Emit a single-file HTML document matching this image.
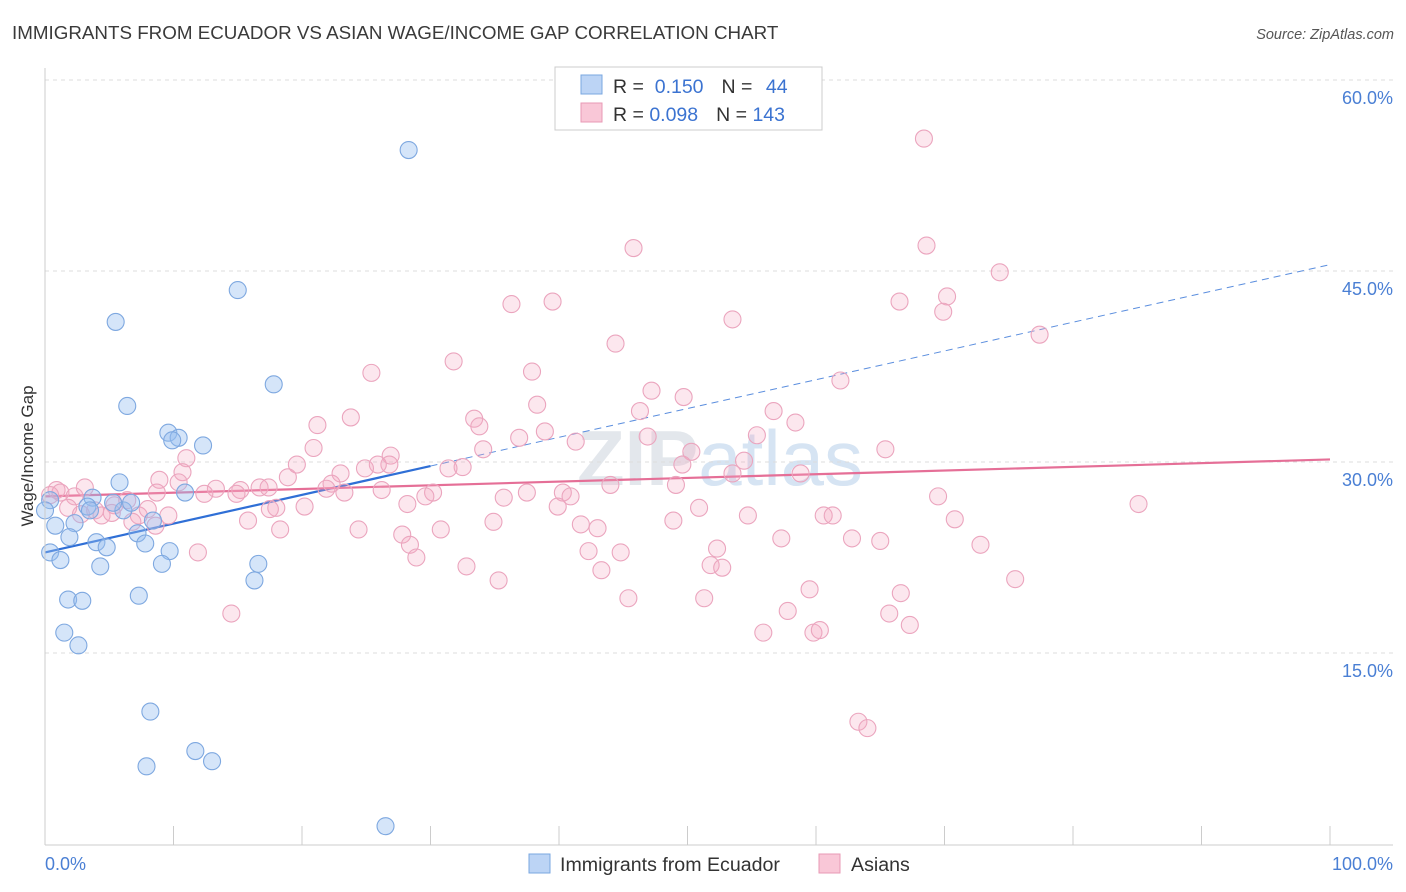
<!DOCTYPE html>
<html><head><meta charset="utf-8"><style>
body{margin:0;background:#fff;font-family:"Liberation Sans",sans-serif;}
svg{display:block}
</style></head><body>
<svg id="chart" width="1406" height="892">
<text x="12" y="39" font-size="18.8" fill="#3a3a3a">IMMIGRANTS FROM ECUADOR VS ASIAN WAGE/INCOME GAP CORRELATION CHART</text>
<text x="1394" y="39" font-size="14.5" fill="#555" font-style="italic" text-anchor="end">Source: ZipAtlas.com</text>
<text x="720" y="485" font-size="78" fill="#e3e7ec" text-anchor="middle" font-weight="bold">ZIP<tspan font-weight="normal" fill="#d6e4f3">atlas</tspan></text>
<text transform="translate(33,456) rotate(-90)" font-size="17" fill="#333" text-anchor="middle">Wage/Income Gap</text>
<g id="grid"></g><g id="trends"></g><g id="pts"></g>
<line x1="45" y1="845" x2="1393" y2="845" stroke="#ccc"/>
<line x1="45" y1="68" x2="45" y2="845" stroke="#ccc"/>
<text x="45" y="870" font-size="18" fill="#4a7fd4">0.0%</text>
<text x="1393" y="870" font-size="18" fill="#4a7fd4" text-anchor="end">100.0%</text>
<g>
<rect x="555" y="67" width="267" height="63" fill="#fff" stroke="#ccc"/>
<rect x="581" y="75" width="21" height="19" fill="#bcd4f5" stroke="#7aa7e0"/>
<rect x="581" y="103" width="21" height="19" fill="#f9c7d7" stroke="#e89ab5"/>
<text x="613" y="93" font-size="19.5" fill="#333">R = <tspan fill="#3b73d1">&#160;0.150</tspan><tspan dx="18">N = </tspan><tspan fill="#3b73d1" dx="8">44</tspan></text>
<text x="613" y="121" font-size="19.5" fill="#333">R = <tspan fill="#3b73d1">0.098</tspan><tspan dx="18">N = </tspan><tspan fill="#3b73d1">143</tspan></text>
</g>
<g>
<rect x="529" y="854" width="21" height="19" fill="#bcd4f5" stroke="#7aa7e0"/>
<text x="560" y="871" font-size="19.6" fill="#333">Immigrants from Ecuador</text>
<rect x="819" y="854" width="21" height="19" fill="#f9c7d7" stroke="#e89ab5"/>
<text x="851" y="871" font-size="19.6" fill="#333">Asians</text>
</g>
</svg>
<script>
const yTicks=[15,30,45,60];
const yTickLabels=["15.0%","30.0%","45.0%","60.0%"];
const xTicks=[0,10,20,30,40,50,60,70,80,90,100];
const blueX=[28.3,15.0,5.5,6.4,17.8,9.6,10.4,12.3,9.9,5.8,3.7,3.3,3.5,6.1,6.7,8.4,10.9,2.3,0.8,1.9,4.0,4.8,7.2,7.8,9.7,0.4,1.2,4.3,9.1,16.6,16.3,7.3,1.8,2.9,1.5,2.6,8.2,11.7,13.0,7.9,26.5,0.4,5.3,0];
const blueY=[54.5,43.5,41.0,34.4,36.1,32.3,31.9,31.3,31.7,28.4,27.2,26.5,26.2,26.2,26.8,25.4,27.6,25.2,25.0,24.1,23.7,23.3,24.4,23.6,23.0,22.9,22.3,21.8,22.0,22.0,20.7,19.5,19.2,19.1,16.6,15.6,10.4,7.3,6.5,6.1,1.4,27.0,26.8,26.2];
const pinkX=[68.4,45.8,68.6,74.3,70.2,66.5,69.9,36.3,39.5,53.5,77.4,44.4,31.8,25.4,37.9,61.9,47.2,49.7,38.3,33.4,46.3,23.8,33.8,21.2,56.7,58.4,38.9,46.9,36.9,41.3,55.4,65.4,20.9,50.3,34.1,26.9,54.4,26.8,25.9,32.5,31.4,24.9,49.6,11.0,8.9,10.7,23.0,18.9,19.6,10.4,15.2,16.7,14.9,13.3,12.4,17.4,22.3,23.3,26.2,21.9,30.2,29.6,28.2,35.7,37.5,40.3,40.9,44.0,53.5,58.8,49.1,69.5,85.1,17.5,20.2,15.8,18.0,34.9,39.9,41.7,43.0,48.9,50.9,54.7,60.6,61.3,70.8,30.8,24.4,18.3,27.8,28.4,28.9,42.3,44.8,52.3,57.3,62.8,65.0,72.8,11.9,32.8,35.3,43.3,51.8,52.7,75.5,59.5,66.6,45.4,51.3,57.8,65.7,67.3,55.9,59.8,60.3,14.5,63.3,64.0,0.9,1.2,2.3,1.8,2.8,3.9,3.1,4.4,5.4,6.4,7.3,8.0,6.8,8.6,9.6,0.4,5.2,8.7];
const pinkY=[55.4,46.8,47.0,44.9,43.0,42.6,41.8,42.4,42.6,41.2,40.0,39.3,37.9,37.0,37.1,36.4,35.6,35.1,34.5,33.4,34.0,33.5,32.8,32.9,34.0,33.1,32.4,32.0,31.9,31.6,32.1,31.0,31.1,30.8,31.0,30.5,30.1,29.8,29.8,29.6,29.5,29.5,29.8,30.3,28.6,29.2,29.1,28.8,29.8,28.4,27.8,28.0,27.5,27.9,27.5,28.0,28.3,27.6,27.8,27.9,27.6,27.3,26.7,27.2,27.6,27.6,27.3,28.2,29.1,29.1,28.2,27.3,26.7,26.3,26.5,25.4,26.4,25.3,26.5,25.1,24.8,25.4,26.4,25.8,25.8,25.8,25.5,24.7,24.7,24.7,24.3,23.5,22.5,23.0,22.9,23.2,24.0,24.0,23.8,23.5,22.9,21.8,20.7,21.5,21.9,21.7,20.8,20.0,19.7,19.3,19.3,18.3,18.1,17.2,16.6,16.6,16.8,18.1,9.6,9.1,27.8,27.6,27.3,26.4,25.9,26.2,28.0,25.8,26.6,27.0,25.8,26.3,25.3,25.0,25.8,27.4,26.0,27.6];
const blueTrend=[22.9,0.226]; // intercept, slope
const blueSolidEnd=30;
const pinkTrend=[27.3,0.029];
const NS="http://www.w3.org/2000/svg";
const X=v=>45+v*12.85, Y=v=>462-(v-30)*12.733;
function mk(tag,attrs,parent){const e=document.createElementNS(NS,tag);for(const k in attrs)e.setAttribute(k,attrs[k]);parent.appendChild(e);return e;}
const grid=document.getElementById('grid');
yTicks.forEach((t,i)=>{
  const l=mk('line',{x1:45,x2:1393,y1:Y(t),y2:Y(t),stroke:'#dcdcdc','stroke-dasharray':'4,4'},grid);
  
  
  const tx=mk('text',{x:1393,y:Y(t)+24,'font-size':18,fill:'#4a7fd4','text-anchor':'end'},grid);
  tx.textContent=yTickLabels[i];
  
  
});
xTicks.forEach(t=>{
  const l=mk('line',{x1:X(t),x2:X(t),y1:826,y2:845,stroke:'#ccc'},grid);
  
  
});
const tr=document.getElementById('trends');
const pts=document.getElementById('pts');
for(let i=0;i<pinkX.length;i++){
  const c=mk('circle',{cx:X(pinkX[i]),cy:Y(pinkY[i]),r:8.5,fill:'rgba(244,168,194,0.28)',stroke:'#eba5be','stroke-width':1.1},pts);
  
  
}
for(let i=0;i<blueX.length;i++){
  const c=mk('circle',{cx:X(blueX[i]),cy:Y(blueY[i]),r:8.5,fill:'rgba(150,190,240,0.4)',stroke:'#7ea8e0','stroke-width':1.1},pts);
  
  
}
const bf=x=>blueTrend[0]+blueTrend[1]*x, pf=x=>pinkTrend[0]+pinkTrend[1]*x;
let l1=mk('line',{x1:X(0),y1:Y(bf(0)),x2:X(blueSolidEnd),y2:Y(bf(blueSolidEnd)),stroke:'#2f6fd6','stroke-width':2.2},tr);


let l2=mk('line',{x1:X(blueSolidEnd),y1:Y(bf(blueSolidEnd)),x2:X(100),y2:Y(bf(100)),stroke:'#5b8ede','stroke-width':1,'stroke-dasharray':'7,5'},tr);


let l3=mk('line',{x1:X(0),y1:Y(pf(0)),x2:X(100),y2:Y(pf(100)),stroke:'#e56f97','stroke-width':2.2},tr);


</script>
</body></html>
